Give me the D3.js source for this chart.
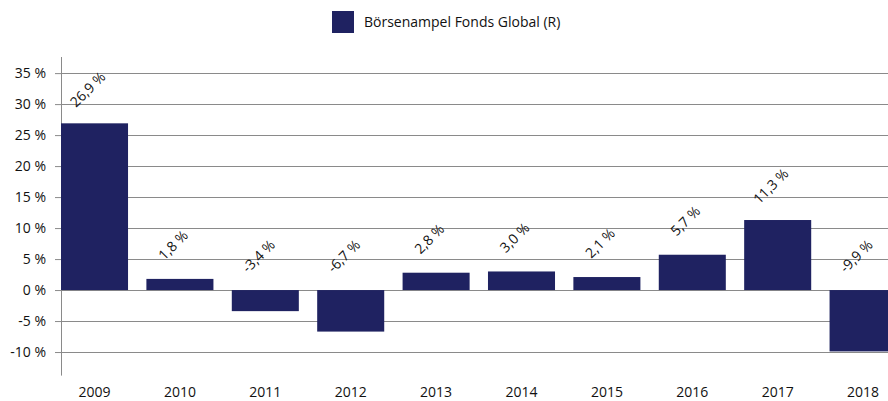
<!DOCTYPE html>
<meta charset="utf-8">
<script src="https://d3js.org/d3.v7.min.js"></script>
<style>
  body { margin: 0; background: white; }
  text { font-family: "Open Sans", "Noto Sans", sans-serif; fill: #111; }
</style>
<div id="chart"></div>
<script>
var years = ["2009", "2010", "2011", "2012", "2013", "2014", "2015", "2016", "2017", "2018"];
var returns = [26.9, 1.8, -3.4, -6.7, 2.8, 3.0, 2.1, 5.7, 11.3, -9.9];
var yTicks = [-10, -5, 0, 5, 10, 15, 20, 25, 30, 35];
var seriesName = "Börsenampel Fonds Global (R)";

var width = 888, height = 401;
var barColor = "#1f2261";

var svg = d3.select("#chart").append("svg")
    .attr("width", width)
    .attr("height", height);

var y = d3.scaleLinear()
    .domain([-13.8, 37.6])
    .range([375.6, 57]);

var x = d3.scaleBand()
    .domain(years)
    .range([61, 896.6])
    .paddingInner(0.215)
    .paddingOuter(0);

var fmt = function(v) { return d3.format(".1f")(v).replace(".", ",").replace("\u2212", "-") + " %"; };

// ticks
var yAxis = svg.append("g")
    .attr("transform", "translate(61,0)")
    .call(d3.axisLeft(y).tickValues(yTicks).tickSize(6).tickPadding(9)
      .tickFormat(function(d) { return d + " %"; }));
yAxis.select(".domain").remove();
yAxis.selectAll("line").attr("stroke", "#8a8a8a");
yAxis.selectAll("text").style("font-size", "14px").attr("fill", "#111");

// gridlines
svg.append("g").selectAll("line")
  .data(yTicks)
  .enter().append("line")
    .attr("x1", 61).attr("x2", width)
    .attr("y1", function(d) { return Math.round(y(d)) + 0.5; })
    .attr("y2", function(d) { return Math.round(y(d)) + 0.5; })
    .attr("stroke", "#8a8a8a")
    .attr("stroke-width", 1);

svg.append("line")
    .attr("x1", 61.5).attr("x2", 61.5)
    .attr("y1", y.range()[1]).attr("y2", y.range()[0])
    .attr("stroke", "#8a8a8a");

// bars
svg.append("g").selectAll("rect")
  .data(years)
  .enter().append("rect")
    .attr("x", function(d) { return x(d); })
    .attr("width", x.bandwidth())
    .attr("y", function(d, i) { return y(Math.max(0, returns[i])); })
    .attr("height", function(d, i) { return Math.abs(y(returns[i]) - y(0)); })
    .attr("fill", barColor);

// value labels
svg.append("g").selectAll("text")
  .data(years)
  .enter().append("text")
    .attr("transform", function(d, i) {
      var cx = x(d) + x.bandwidth() / 2 - 6;
      var cy = Math.min(y(returns[i]), y(0)) - 33;
      return "translate(" + cx + "," + cy + ") rotate(-45)";
    })
    .attr("text-anchor", "middle")
    .attr("dominant-baseline", "middle")
    .style("font-size", "14px")
    .text(function(d, i) { return fmt(returns[i]); });

// x labels
svg.append("g").selectAll("text")
  .data(years)
  .enter().append("text")
    .attr("x", function(d) { return x(d) + x.bandwidth() / 2; })
    .attr("y", 397)
    .attr("text-anchor", "middle")
    .style("font-size", "14px")
    .text(function(d) { return d; });

// legend
svg.append("rect")
    .attr("x", 332).attr("y", 11)
    .attr("width", 22).attr("height", 22)
    .attr("fill", barColor);
svg.append("text")
    .attr("x", 364).attr("y", 27)
    .style("font-size", "14px")
    .text(seriesName);
</script>
